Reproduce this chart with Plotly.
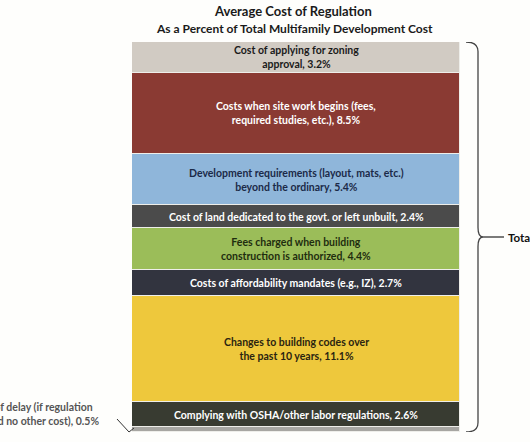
import plotly.graph_objects as go

W, H = 530, 442

# Data (bottom to top)
categories = [
    "Cost of delay (if regulation<br>imposed no other cost)",
    "Complying with OSHA/other labor regulations",
    "Changes to building codes over<br>the past 10 years",
    "Costs of affordability mandates (e.g., IZ)",
    "Fees charged when building<br>construction is authorized",
    "Cost of land dedicated to the govt. or left unbuilt",
    "Development requirements (layout, mats, etc.)<br>beyond the ordinary",
    "Costs when site work begins (fees,<br>required studies, etc.)",
    "Cost of applying for zoning<br>approval",
]
values = [0.5, 2.6, 11.1, 2.7, 4.4, 2.4, 5.4, 8.5, 3.2]

colors = ["#a7a6a2", "#383b31", "#eec83c", "#32343f", "#9bbd59",
          "#4b4b4b", "#8fb6da", "#8a3a33", "#d1cbc3"]
text_colors = ["#ffffff", "#ffffff", "#2a2410", "#ffffff", "#1f2d0f",
               "#ffffff", "#1b2a48", "#ffffff", "#1a1a1a"]

total = sum(values)
FONT = "Lato"

fig = go.Figure()
for i, (cat, v) in enumerate(zip(categories, values)):
    fig.add_trace(go.Bar(
        x=[0], y=[v], width=1, name=cat,
        marker=dict(color=colors[i], line=dict(color="#eeeeea", width=1)),
        hoverinfo="skip", showlegend=False,
    ))

# Segment labels centred in each segment (data coordinates)
cum = 0.0
for i, (cat, v) in enumerate(zip(categories, values)):
    mid_y = cum + v / 2
    cum += v
    if i == 0:
        continue
    fig.add_annotation(x=0, y=mid_y, xref="x", yref="y",
                       xanchor="center", yanchor="middle", align="center",
                       text=f"<b>{cat}, {v}%</b>", showarrow=False,
                       font=dict(family=FONT, size=10.5, color=text_colors[i]))

fig.update_layout(
    width=W, height=H,
    margin=dict(l=0, r=0, t=0, b=0),
    barmode="stack", bargap=0,
    paper_bgcolor="#fefefc", plot_bgcolor="#fefefc",
    xaxis=dict(domain=[132 / W, 460 / W], range=[-0.5, 0.5], visible=False,
               fixedrange=True),
    yaxis=dict(domain=[1 - 432 / H, 1 - 42 / H], range=[0, total],
               visible=False, fixedrange=True),
    font=dict(family=FONT),
)

def px(x):
    return x / W

def py(y):
    return 1 - y / H

# Titles
fig.add_annotation(x=px(293), y=py(11), xref="paper", yref="paper",
                   xanchor="center", yanchor="middle",
                   text="<b>Average Cost of Regulation</b>", showarrow=False,
                   font=dict(family=FONT, size=13, color="#1a1a1a"))
fig.add_annotation(x=px(294), y=py(28), xref="paper", yref="paper",
                   xanchor="center", yanchor="middle",
                   text="<b>As a Percent of Total Multifamily Development Cost</b>",
                   showarrow=False,
                   font=dict(family=FONT, size=12, color="#1a1a1a"))

# Delay label (left, partly cut off as in the source)
fig.add_annotation(x=px(101), y=py(414), xref="paper", yref="paper",
                   xanchor="right", yanchor="middle", align="center",
                   text=f"<b>{categories[0]}, {values[0]}%</b>", showarrow=False,
                   font=dict(family=FONT, size=10.5, color="#555555"))
fig.add_shape(type="path", xref="paper", yref="paper",
              path=f"M {px(117)},{py(419)} L {px(129)},{py(432)} L {px(134)},{py(428)}",
              line=dict(color="#333333", width=1))

# Brace on the right spanning the whole stack
x0, x1, xt = px(466), px(478), px(483)
r = 1.0
mid = total / 2
brace = (f"M {x0},{total} Q {x1},{total} {x1},{total - r} "
         f"L {x1},{mid + r} Q {x1},{mid} {xt},{mid} "
         f"Q {x1},{mid} {x1},{mid - r} "
         f"L {x1},{r} Q {x1},0 {x0},0")
fig.add_shape(type="path", xref="paper", yref="y", path=brace,
              line=dict(color="#444444", width=1.3))
fig.add_shape(type="line", xref="paper", yref="y",
              x0=xt, x1=px(504), y0=mid, y1=mid,
              line=dict(color="#333333", width=1.3))
fig.add_annotation(x=px(506), y=mid, xref="paper", yref="y",
                   xanchor="left", yanchor="middle",
                   text=f"<b>Total, {total:.1f}%</b>", showarrow=False,
                   font=dict(family=FONT, size=11.5, color="#111111"))

fig.write_html("out.html",
               config={"displayModeBar": False},
               post_script="document.body.style.margin='0';")
